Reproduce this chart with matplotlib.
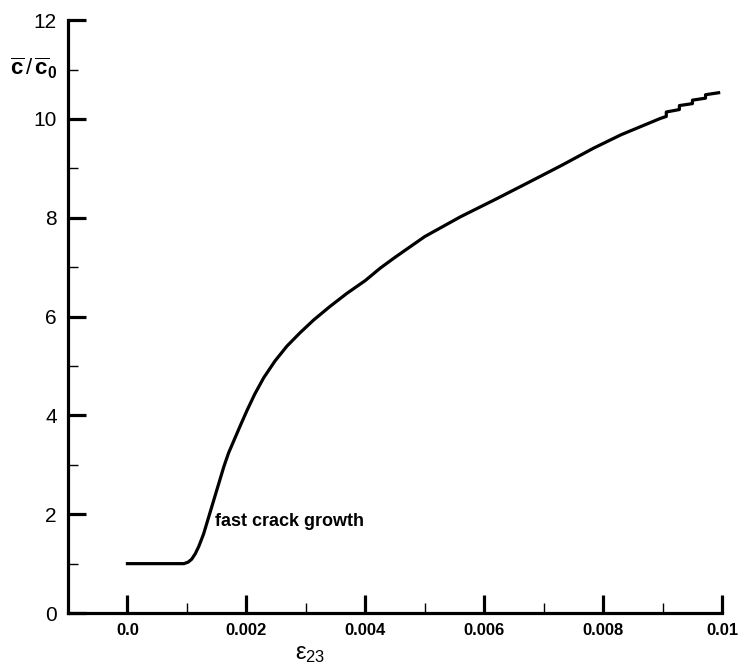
import numpy as np
import matplotlib
matplotlib.use("Agg")
import matplotlib.pyplot as plt
from matplotlib.ticker import MultipleLocator

plt.rcParams['font.family'] = ['Liberation Sans', 'DejaVu Sans']
plt.rcParams['mathtext.fontset'] = 'custom'
plt.rcParams['mathtext.rm'] = 'Liberation Sans'
plt.rcParams['mathtext.it'] = 'Liberation Sans'
plt.rcParams['mathtext.bf'] = 'Liberation Sans:bold'

# strain vs normalised crack density
strain = [0.0, 0.00095, 0.00102, 0.00108, 0.00114, 0.0012, 0.00128, 0.00136,
          0.00145, 0.00154, 0.00162, 0.0017, 0.0018, 0.0019, 0.00201,
          0.00214, 0.00229, 0.00248, 0.00268, 0.0029, 0.00313, 0.0034,
          0.00369, 0.004, 0.00425, 0.0045, 0.005, 0.0056, 0.0062, 0.00672,
          0.0073, 0.00784, 0.0083, 0.00862, 0.00896,
          0.00906, 0.00906, 0.00928, 0.00928, 0.0095, 0.0095, 0.00972,
          0.00972, 0.00994]
crack = [1.0, 1.0, 1.03, 1.09, 1.2, 1.35, 1.6, 1.92,
         2.28, 2.64, 2.96, 3.24, 3.52, 3.8, 4.1,
         4.43, 4.76, 5.1, 5.4, 5.67, 5.93, 6.2,
         6.47, 6.73, 6.98, 7.2, 7.62, 8.02, 8.38, 8.70,
         9.06, 9.41, 9.68, 9.84, 10.01,
         10.05, 10.14, 10.19, 10.27, 10.31, 10.38, 10.42,
         10.49, 10.53]

xticks = [0.0, 0.002, 0.004, 0.006, 0.008, 0.01]
xticklabels = ["0.0", "0.002", "0.004", "0.006", "0.008", "0.01"]
yticks = [0, 2, 4, 6, 8, 10, 12]

fig = plt.figure(figsize=(7.43, 6.70), dpi=100)
ax = fig.add_axes([0.0915, 0.085, 0.8805, 0.885])

ax.plot(strain, crack, color="black", lw=2.3, solid_joinstyle="round")

ax.set_xlim(-0.001, 0.01)
ax.set_ylim(0, 12)
ax.set_xticks(xticks)
ax.set_xticklabels(xticklabels, fontsize=12, fontweight="bold")
ax.set_yticks(yticks)
ax.set_yticklabels([str(v) for v in yticks], fontsize=15)
ax.xaxis.set_minor_locator(MultipleLocator(0.001))
ax.yaxis.set_minor_locator(MultipleLocator(1))

for s in ["top", "right"]:
    ax.spines[s].set_visible(False)
for s in ["left", "bottom"]:
    ax.spines[s].set_linewidth(2.3)

ax.tick_params(which="major", direction="in", length=13, width=2.3, pad=8)
ax.tick_params(which="minor", direction="in", length=7, width=1)
ax.tick_params(axis="x", which="major", pad=7)

ax.text(0.00147, 1.86, "fast crack growth", fontsize=13, fontweight="bold",
        ha="left", va="center")

ax.text(-0.00157, 11.03, r"$\overline{\mathbf{c}}\,/\,\overline{\mathbf{c}}_{\mathbf{0}}$",
        fontsize=16, ha="center", va="center", clip_on=False)
ax.text(0.00308, -0.83, "ε$_{23}$", fontsize=17,
        ha="center", va="center", clip_on=False)

fig.savefig("out.png", dpi=100)
